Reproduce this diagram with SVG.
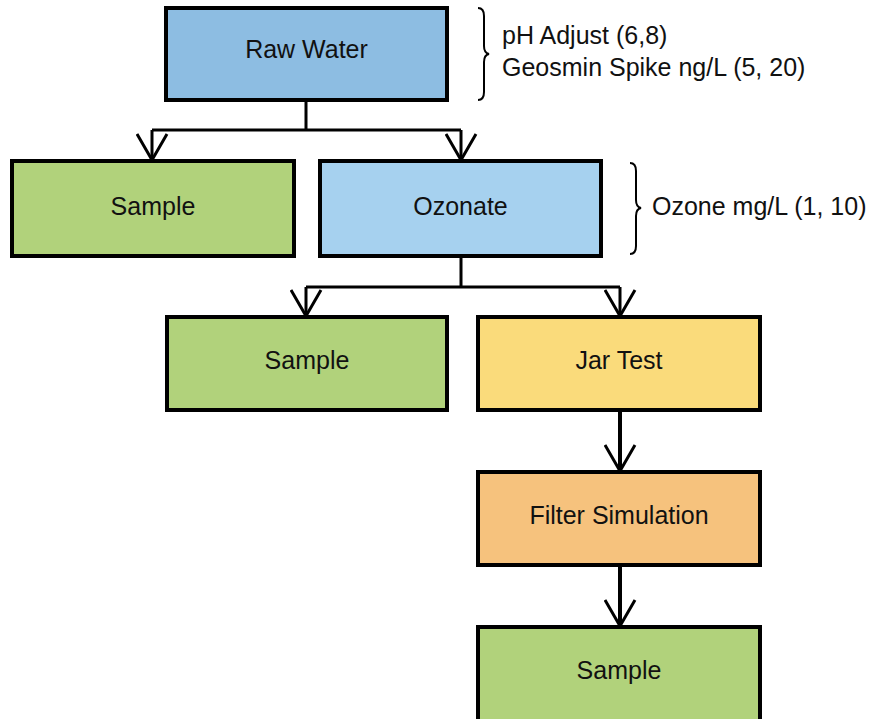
<svg xmlns="http://www.w3.org/2000/svg" width="872" height="719" viewBox="0 0 872 719">
<style>
.box{stroke:#000;stroke-width:4}
.t{font-family:"Liberation Sans",Arial,sans-serif;font-size:25px;fill:#111;text-anchor:middle}
.lbl{font-family:"Liberation Sans",Arial,sans-serif;font-size:25px;fill:#111}
.c{fill:none;stroke:#000;stroke-width:3}
.c4{fill:none;stroke:#000;stroke-width:4}
.br{fill:none;stroke:#000;stroke-width:2}
</style>
<defs>
<marker id="v" markerWidth="34" markerHeight="30" refX="16" refY="27" markerUnits="userSpaceOnUse" orient="0" viewBox="0 0 34 30">
<path d="M1,1 L16,27 L31,1" fill="none" stroke="#000" stroke-width="3"/>
</marker>
</defs>
<rect width="872" height="719" fill="#fff"/>
<g id="connectors">
<path class="c" d="M306,100 V130 M152,130 H461" />
<path class="c" d="M152,130 V160" marker-end="url(#v)"/>
<path class="c" d="M461,130 V160" marker-end="url(#v)"/>
<path class="c" d="M461,256 V287 M306,287 H620" />
<path class="c" d="M306,287 V316" marker-end="url(#v)"/>
<path class="c" d="M620,287 V316" marker-end="url(#v)"/>
<path class="c4" d="M620,410 V471" marker-end="url(#v)"/>
<path class="c4" d="M620,565 V626" marker-end="url(#v)"/>
</g>
<g id="raw-water">
<rect class="box" x="166" y="8" width="281" height="92" fill="#8dbde2"/>
<text class="t" x="306.5" y="58">Raw Water</text>
</g>
<g id="raw-params">
<path class="br" d="M478,8 Q484,8 484,16 L484,46 Q484,53 489,54 Q484,55 484,62 L484,92 Q484,100 478,100"/>
<text class="lbl" x="502" y="44">pH Adjust (6,8)</text>
<text class="lbl" x="502" y="76">Geosmin Spike ng/L (5, 20)</text>
</g>
<g id="sample1">
<rect class="box" x="12" y="161" width="282" height="95" fill="#b1d27b"/>
<text class="t" x="153" y="215">Sample</text>
</g>
<g id="ozonate">
<rect class="box" x="320" y="161" width="281" height="95" fill="#a6d1ef"/>
<text class="t" x="460.5" y="215">Ozonate</text>
</g>
<g id="ozone-params">
<path class="br" d="M630,163 Q636,163 636,171 L636,200 Q636,207 641,208 Q636,209 636,216 L636,246 Q636,254 630,254"/>
<text class="lbl" x="652" y="215">Ozone mg/L (1, 10)</text>
</g>
<g id="sample2">
<rect class="box" x="167" y="317" width="280" height="93" fill="#b1d27b"/>
<text class="t" x="307" y="369">Sample</text>
</g>
<g id="jar-test">
<rect class="box" x="478" y="317" width="282" height="93" fill="#fadb7b"/>
<text class="t" x="619" y="369">Jar Test</text>
</g>
<g id="filter-simulation">
<rect class="box" x="478" y="472" width="282" height="93" fill="#f6c27d"/>
<text class="t" x="619" y="524">Filter Simulation</text>
</g>
<g id="sample3">
<rect class="box" x="478" y="627" width="282" height="95" fill="#b1d27b"/>
<text class="t" x="619" y="679">Sample</text>
</g>
</svg>
